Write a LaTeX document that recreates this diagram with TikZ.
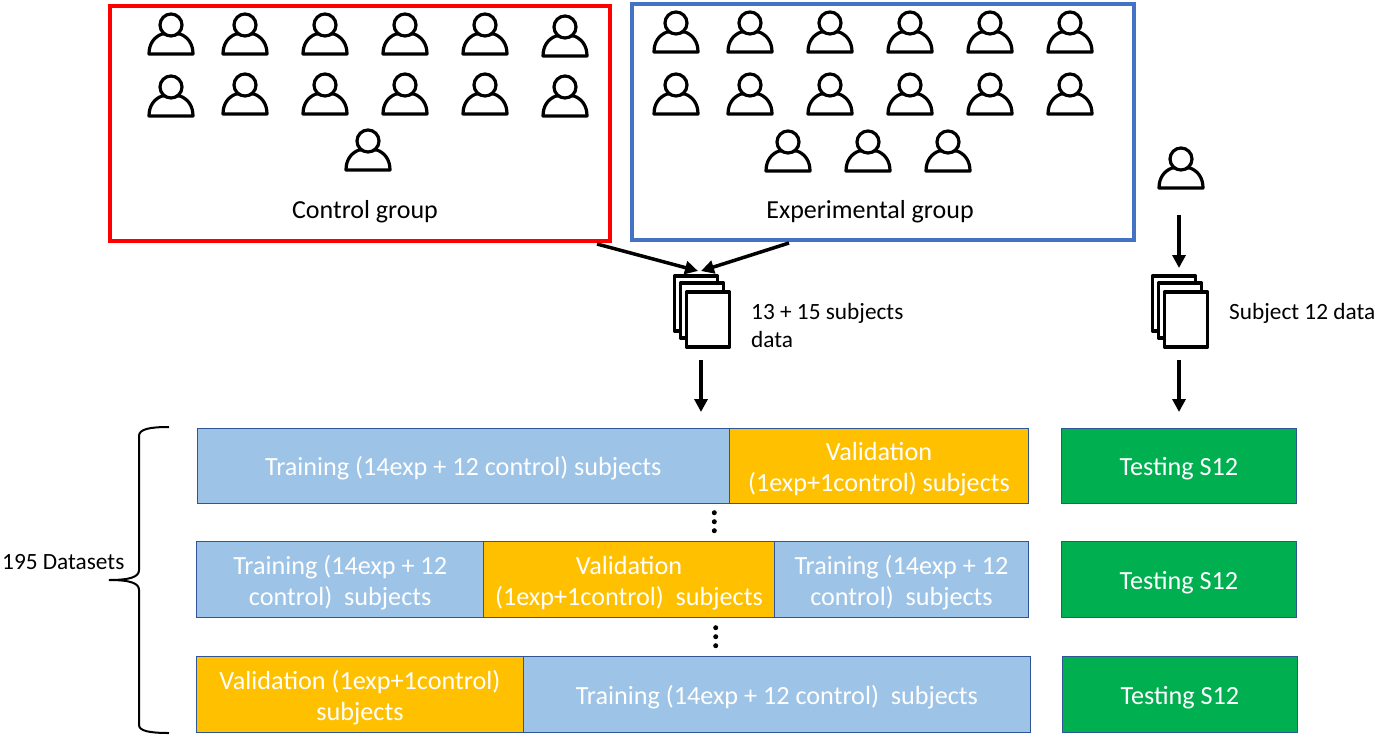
\documentclass[tikz,border=0pt]{standalone}
\usepackage{fontspec}
\setmainfont{Carlito}
\usetikzlibrary{arrows.meta, positioning, calc}

\begin{document}
\begin{tikzpicture}[
		x=1pt, y=-1pt,
		% Text styles
		blacktext/.style={font=\fontsize{23.3}{28}\selectfont, inner sep=0pt, align=left},
		grouptext/.style={font=\fontsize{26}{31}\selectfont, inner sep=0pt},
		% Group styles
		groupbox/.style={draw, line width=4pt, inner sep=0pt, anchor=north west},
		% Bar styles
		bar/.style={draw=barline, line width=1pt, inner sep=0pt, text=white, align=center, minimum height=76, anchor=north west, font=\fontsize{26.2}{31}\selectfont},
		onelinebar/.style={text height=27pt, text depth=6.5pt},
		twolinebar/.style={text height=58pt, text depth=6.5pt},
		trainbar/.style={bar, fill=trainblue},
		validbar/.style={bar, fill=validyellow},
		testbar/.style={bar, onelinebar, fill=testgreen, minimum width=234.5},
		% Arrow style
		flow/.style={-{Stealth[length=13pt,width=13pt,inset=0pt]}, line width=3.5pt},
		dot/.style={circle, fill=black, inner sep=0pt, minimum size=5},
		% Icon styles
		page/.style={draw=black, fill=white, line width=3.2pt, line join=round, inner sep=0pt, minimum width=43, minimum height=55},
		person/.pic={
			\draw[line width=3.2pt, fill=white, line join=round] (-22,-1) .. controls (-22,-11) and (-17,-18) .. (-9,-21) -- (9,-21) .. controls (17,-18) and (22,-11) .. (22,-1) -- cycle;
			\draw[line width=3.2pt, fill=white] (0,-30) circle (11);
		},
		pagestack/.pic={
			\node[page] (-back) at (-5,-7.5) {};
			\node[page] (-mid) at (1,-0.5) {};
			\node[page] (-front) at (7,8.5) {};
		}
		]
		\definecolor{barline}{HTML}{2F5597}
		\definecolor{trainblue}{HTML}{9DC3E6}
		\definecolor{validyellow}{HTML}{FFC000}
		\definecolor{testgreen}{HTML}{00B050}
		\definecolor{expblue}{HTML}{4472C4}
		
		\useasboundingbox (0,0) rectangle (1388,750);
		
		% --- TOP ROW: SUBJECT GROUPS ---
		
		% Control group
		\node[groupbox, draw=red, minimum width=500, minimum height=235] (Control) at (108,4) {};
		\node[grouptext] (control_label) at (365,212) {Control group};
		\foreach \x/\y in {171/55, 245/55, 325/55, 405/55, 485/55, 565/57, 171/117, 245/115, 325/115, 405/115, 485/115, 565/117, 368/171}
		\pic at (\x,\y) {person};
		
		% Experimental group
		\node[groupbox, draw=expblue, minimum width=502, minimum height=236] (Experimental) at (630,2) {};
		\node[grouptext] (exp_label) at (870,212) {Experimental group};
		\foreach \x/\y in {676/53, 750/53, 830/53, 910/53, 990/53, 1070/53, 676/115, 750/115, 830/115, 910/115, 990/115, 1070/115, 788/172, 868/172, 948/172}
		\pic at (\x,\y) {person};
		
		% Held out subject
		\pic at (1181,189) {person};
		
		% --- MIDDLE ROW: DATA STACKS ---
		
		\pic (data_all) at (701,311) {pagestack};
		\pic (data_one) at (1179,311) {pagestack};
		\node[blacktext, anchor=west] (data_all_label) at (751,325) {13 + 15 subjects\\data};
		\node[blacktext, anchor=west] (data_one_label) at (1229,313) {Subject 12 data};
		
		% Free arrow ends
		\coordinate (control_out) at (597,244);
		\coordinate (exp_out) at (789,243);
		\coordinate (all_in_a) at (698,271);
		\coordinate (all_in_b) at (701,271);
		\coordinate (all_out) at (701,360);
		\coordinate (all_to_bars) at (701,412);
		\coordinate (one_from) at (1179,215);
		\coordinate (one_in) at (1179,268);
		\coordinate (one_out) at (1179,360);
		\coordinate (one_to_bars) at (1179,412);
		
		% Connections
		\draw[flow] (control_out) -- (all_in_a);
		\draw[flow] (exp_out) -- (all_in_b);
		\draw[flow] (all_out) -- (all_to_bars);
		\draw[flow] (one_from) -- (one_in);
		\draw[flow] (one_out) -- (one_to_bars);
		
		% --- BOTTOM ROWS: DATASETS ---
		
		% Row 1
		\node[trainbar, onelinebar, minimum width=532, minimum height=75] (train_a) at (196.8,427.5) {Training (14exp + 12 control) subjects};
		\node[validbar, twolinebar, minimum width=299.4, minimum height=75, right=-1pt of train_a] (valid_a) {Validation\\(1exp+1control) subjects};
		\node[testbar, minimum height=75] (test_a) at (1061.2,427.5) {Testing S12};
		
		% Row 2
		\node[trainbar, twolinebar, minimum width=287] (train_b) at (196.2,541) {Training (14exp + 12\\control)\ \ subjects};
		\node[validbar, twolinebar, minimum width=290.6, right=-1pt of train_b] (valid_b) {Validation\\(1exp+1control)\ \ subjects};
		\node[trainbar, twolinebar, minimum width=254.4, right=-1pt of valid_b] (train_c) {Training (14exp + 12\\control)\ \ subjects};
		\node[testbar] (test_b) at (1061.2,541) {Testing S12};
		
		% Row 3
		\node[validbar, twolinebar, minimum width=326.5] (valid_c) at (196.2,656) {Validation (1exp+1control)\\subjects};
		\node[trainbar, onelinebar, minimum width=507.5, right=-1pt of valid_c] (train_d) {Training (14exp + 12 control)\ \ subjects};
		\node[testbar] (test_c) at (1062.2,656) {Testing S12};
		
		% Dots between the rows
		\foreach \y in {512.7,521.7,530.7}
		\node[dot] (dot_a\y) at (714.3,\y) {};
		\foreach \y in {627.7,636.7,645.7}
		\node[dot] (dot_b\y) at (715.7,\y) {};
		
		% Brace
		\draw[line width=2pt] (169,427) .. controls (150,427) and (139,429) .. (139,436) -- (139,570) .. controls (139,577) and (130,580) .. (109,580) .. controls (130,580) and (139,583) .. (139,590) -- (139,725) .. controls (139,731) and (150,733) .. (169,733);
		\node[blacktext, anchor=west] (brace_label) at (2,562) {195 Datasets};
		
	\end{tikzpicture}
\end{document}
